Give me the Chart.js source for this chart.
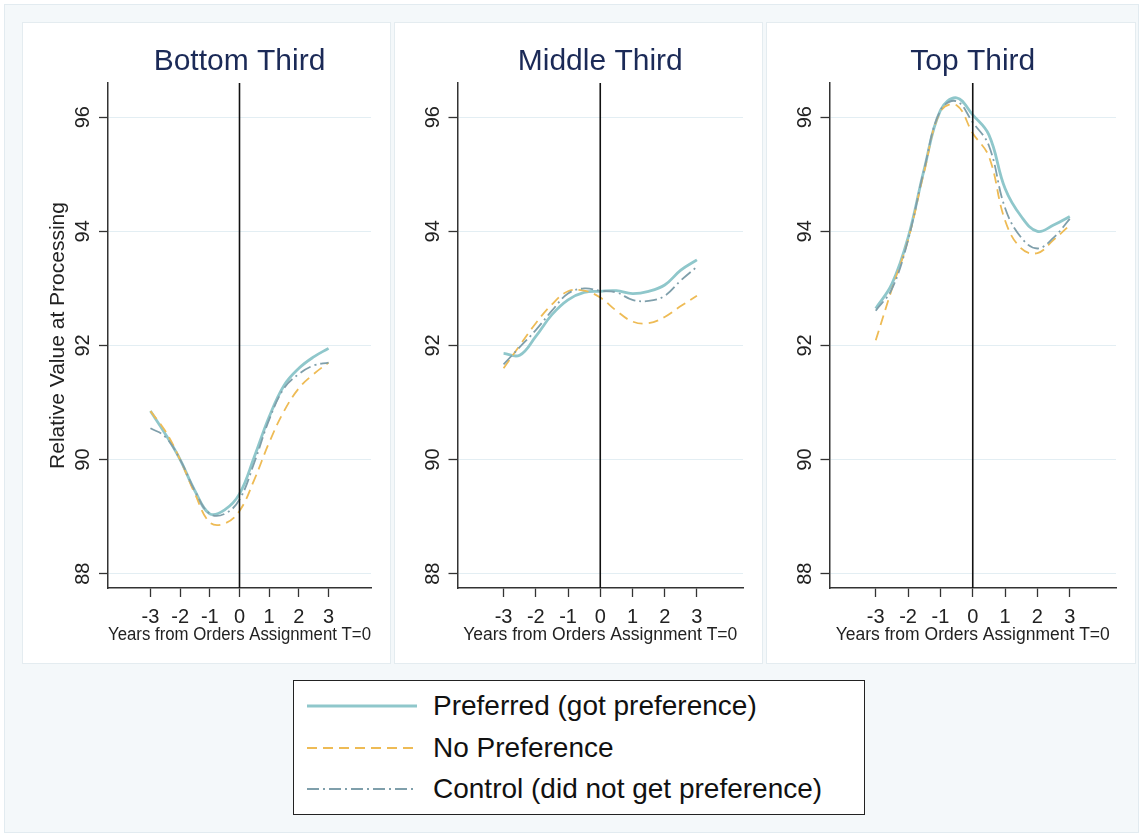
<!DOCTYPE html>
<html>
<head>
<meta charset="utf-8">
<script src="https://cdn.jsdelivr.net/npm/chart.js@4.4.1/dist/chart.umd.min.js"></script>
<style>
  body { margin: 0; background: #fff; font-family: "Liberation Sans", Arial, sans-serif; }
  #frame { position: absolute; left: 4px; top: 4px; width: 1133px; height: 827px; background: #f4f8fa; border: 1px solid #e2ebf0; }
  .panel { position: absolute; top: 23px; height: 640px; background: #fff; box-shadow: 0 0 0 1px #e4ecf0; }
  .panel canvas { position: absolute; left: 0; top: 0; }
  #legend { position: absolute; left: 293px; top: 680px; width: 572px; height: 135px; box-sizing: border-box; border: 1.5px solid #222; background: #fff; }
  .row { position: absolute; left: 0; height: 36px; width: 100%; }
  .row svg { position: absolute; left: 13px; top: 0; }
  .row span { position: absolute; left: 139px; top: 0; line-height: 36px; font-size: 28px; color: #111; white-space: nowrap; }
</style>
</head>
<body>
<div id="frame"></div>
<div class="panel" style="left:23px;width:367px"><canvas id="p1" width="367" height="640"></canvas></div>
<div class="panel" style="left:395px;width:367px"><canvas id="p2" width="367" height="640"></canvas></div>
<div class="panel" style="left:767px;width:368px"><canvas id="p3" width="368" height="640"></canvas></div>
<div id="legend"></div>
<script>
// years from orders assignment
const years = [-3, -2.5, -2, -1.5, -1, -0.5, 0, 0.5, 1, 1.5, 2, 2.5, 3];
const xTicks = [-3, -2, -1, 0, 1, 2, 3];
const yTicks = [88, 90, 92, 94, 96];

const panelTitles = ["Bottom Third", "Middle Third", "Top Third"];
const seriesNames = ["Preferred (got preference)", "No Preference", "Control (did not get preference)"];
const seriesColors = ["#8fc7cb", "#eebb55", "#7f9fab"];
const seriesDash = [[], [10, 6], [12, 4, 2, 4]];
const seriesWidth = [2.8, 1.8, 1.8];

const bottomPreferred = [90.85, 90.45, 90.0, 89.45, 89.05, 89.12, 89.4, 90.05, 90.75, 91.3, 91.6, 91.8, 91.95];
const bottomNoPref    = [90.85, 90.5, 90.0, 89.4, 88.9, 88.88, 89.1, 89.65, 90.3, 90.85, 91.25, 91.5, 91.7];
const bottomControl   = [90.55, 90.4, 90.0, 89.45, 89.05, 89.05, 89.3, 89.95, 90.7, 91.25, 91.5, 91.65, 91.7];

const middlePreferred = [91.86, 91.83, 92.16, 92.54, 92.8, 92.93, 92.95, 92.96, 92.91, 92.95, 93.06, 93.32, 93.5];
const middleNoPref    = [91.6, 92.0, 92.39, 92.72, 92.95, 92.96, 92.84, 92.61, 92.42, 92.39, 92.5, 92.69, 92.87];
const middleControl   = [91.67, 91.97, 92.27, 92.61, 92.91, 93.0, 92.96, 92.93, 92.8, 92.78, 92.87, 93.14, 93.38];

const topPreferred = [92.65, 93.08, 93.89, 95.09, 96.12, 96.34, 96.04, 95.69, 94.75, 94.26, 94.0, 94.11, 94.26];
const topNoPref    = [92.09, 92.99, 93.85, 95.05, 96.1, 96.21, 95.72, 95.31, 94.19, 93.7, 93.62, 93.85, 94.11];
const topControl   = [92.61, 92.99, 93.85, 95.09, 96.12, 96.28, 95.91, 95.5, 94.41, 93.89, 93.7, 93.89, 94.22];

const panels = [
  { id: "p1", title: panelTitles[0], series: [bottomPreferred, bottomNoPref, bottomControl], yWidth: 85, yTitle: true },
  { id: "p2", title: panelTitles[1], series: [middlePreferred, middleNoPref, middleControl], yWidth: 62.5, yTitle: false },
  { id: "p3", title: panelTitles[2], series: [topPreferred, topNoPref, topControl], yWidth: 62.5, yTitle: false }
];

const zeroLine = {
  id: "zeroLine",
  afterDatasetsDraw(chart) {
    const { ctx, chartArea, scales } = chart;
    const x = scales.x.getPixelForValue(0);
    ctx.save();
    ctx.strokeStyle = "#111";
    ctx.lineWidth = 1.6;
    ctx.beginPath();
    ctx.moveTo(x, chartArea.top);
    ctx.lineTo(x, chartArea.bottom);
    ctx.stroke();
    ctx.restore();
  }
};

Chart.defaults.font.family = '"Liberation Sans", Arial, sans-serif';

panels.forEach(p => {
  const ctx = document.getElementById(p.id).getContext("2d");
  new Chart(ctx, {
    type: "line",
    data: {
      datasets: p.series.map((vals, i) => ({
        label: seriesNames[i],
        data: years.map((yr, j) => ({ x: yr, y: vals[j] })),
        borderColor: seriesColors[i],
        borderDash: seriesDash[i],
        borderWidth: seriesWidth[i],
        pointRadius: 0,
        tension: 0.4,
        fill: false,
        order: 3 - i
      }))
    },
    options: {
      responsive: false,
      animation: false,
      devicePixelRatio: 1,
      layout: { padding: { left: 0, right: 19, top: 0, bottom: 0 } },
      plugins: {
        legend: { display: false },
        tooltip: { enabled: false },
        title: {
          display: true,
          text: p.title,
          fullSize: false,
          color: "#1b2a57",
          font: { size: 30, weight: "normal" },
          padding: { top: 21, bottom: 3 }
        }
      },
      scales: {
        x: {
          type: "linear",
          min: -4.43,
          max: 4.43,
          afterBuildTicks: s => { s.ticks = xTicks.map(v => ({ value: v })); },
          afterFit: s => { s.height = 75; },
          ticks: { autoSkip: false, maxRotation: 0, color: "#222", font: { size: 20 }, padding: 8 },
          grid: { drawOnChartArea: false, tickColor: "#333", tickLength: 9, tickWidth: 1.3 },
          border: { color: "#333", width: 1.5 },
          title: {
            display: true,
            text: "Years from Orders Assignment T=0",
            color: "#222",
            font: { size: 17.5 },
            padding: { top: 0, bottom: 17 }
          }
        },
        y: {
          min: 87.75,
          max: 96.6,
          afterBuildTicks: s => { s.ticks = yTicks.map(v => ({ value: v })); },
          afterFit: s => { s.width = p.yWidth; },
          ticks: { minRotation: 90, maxRotation: 90, crossAlign: "center", color: "#222", font: { size: 20 }, padding: 4 },
          grid: { color: "#e3eef3", lineWidth: 1, tickColor: "#333", tickLength: 9, tickWidth: 1.3 },
          border: { color: "#333", width: 1.5 },
          title: {
            display: p.yTitle,
            text: "Relative Value at Processing",
            color: "#222",
            font: { size: 21 },
            padding: { top: 23, bottom: 0 }
          }
        }
      }
    },
    plugins: [zeroLine]
  });
});

// legend box below the panels
const legend = document.getElementById("legend");
const rowTops = [7, 49, 90];
seriesNames.forEach((name, i) => {
  const row = document.createElement("div");
  row.className = "row";
  row.style.top = rowTops[i] + "px";
  const dash = seriesDash[i].length ? ' stroke-dasharray="' + seriesDash[i].join(",") + '"' : "";
  row.innerHTML = '<svg width="110" height="36"><line x1="0" y1="18" x2="110" y2="18" stroke="' + seriesColors[i] +
    '" stroke-width="' + seriesWidth[i] + '"' + dash + '/></svg><span>' + name + '</span>';
  legend.appendChild(row);
});
</script>
</body>
</html>
